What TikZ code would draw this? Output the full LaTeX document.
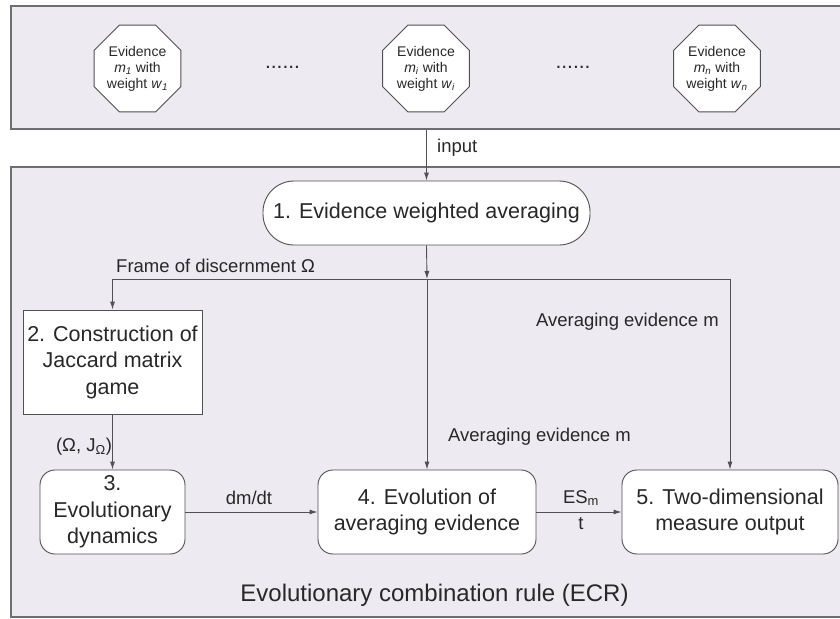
\documentclass[tikz,border=0pt]{standalone}
\usepackage{fontspec}
\setmainfont{Liberation Sans}
\usetikzlibrary{shapes.geometric,arrows.meta}
\definecolor{panelfill}{RGB}{237,234,241}
\definecolor{panelline}{RGB}{110,110,114}
\definecolor{boxline}{RGB}{80,80,85}
\definecolor{txt}{RGB}{40,40,40}
\newcommand{\evsym}[2]{\textit{#1}\textsubscript{\textit{#2}}}
\tikzset{
  panel/.style={draw=panelline, line width=1.6pt, fill=panelfill},
  evbox/.style={draw=boxline, line width=0.9pt, fill=white, regular polygon, regular polygon sides=8,
    minimum size=94pt, inner sep=0pt, align=center, text=txt,
    font=\fontsize{14}{16}\selectfont},
  procbox/.style={draw=boxline, line width=0.9pt, fill=white, rounded corners=15pt, align=center,
    inner sep=2pt, text=txt, font=\fontsize{21.5}{26.5}\selectfont},
  rectbox/.style={draw=boxline, line width=0.9pt, fill=white, align=center,
    inner sep=2pt, text=txt, font=\fontsize{21.5}{26.5}\selectfont},
  lbl/.style={text=txt, inner sep=0pt, font=\fontsize{18.5}{20}\selectfont},
  dotlbl/.style={text=txt, inner sep=0pt, font=\fontsize{21}{22}\selectfont},
  arr/.style={draw=boxline, line width=0.9pt, -{Latex[length=8pt,width=5pt]}},
  ln/.style={draw=boxline, line width=0.9pt},
}
\begin{document}
\begin{tikzpicture}[x=1pt,y=-1pt]
\useasboundingbox (0,0) rectangle (840,618);
% panels
\node[panel, minimum width=840pt, minimum height=123pt, anchor=north west, inner sep=0pt] (top) at (10,5) {};
\node[panel, minimum width=840pt, minimum height=450pt, anchor=north west, inner sep=0pt] (bot) at (10,166) {};
% evidence octagons
\node[evbox] (e1) at (137.5,68.5) {Evidence\\\evsym{m}{1} with\\weight \evsym{w}{1}};
\node[evbox] (ei) at (426,68.5) {Evidence\\\evsym{m}{i} with\\weight \evsym{w}{i}};
\node[evbox] (en) at (717,68.5) {Evidence\\\evsym{m}{n} with\\weight \evsym{w}{n}};
\node[dotlbl] (d1) at (282.5,67) {......};
\node[dotlbl] (d2) at (573,67) {......};
% process nodes
\node[procbox, rounded corners=31pt, minimum width=327pt, minimum height=64pt] (n1) at (426.5,213) {1. Evidence weighted averaging};
\node[rectbox, minimum width=179pt, minimum height=104pt] (n2) at (112.5,362) {2. Construction of\\Jaccard matrix\\game};
\node[procbox, minimum width=145pt, minimum height=84pt] (n3) at (112.5,512) {3.\\Evolutionary\\dynamics};
\node[procbox, minimum width=218pt, minimum height=84pt] (n4) at (427,512) {4. Evolution of\\averaging evidence};
\node[procbox, minimum width=216pt, minimum height=84pt] (n5) at (730,512) {5. Two-dimensional\\measure output};
% junctions
\coordinate (j) at (427,279);
\coordinate (jl) at (112.5,279);
\coordinate (jr) at (730,279);
% connectors
\draw[arr] (top.south -| n1.north) -- (n1.north);
\draw[arr] (n1.south) -- (j);
\draw[arr] (j) -- (n4.north);
\draw[ln] (jl) -- (jr);
\draw[arr] (jl) -- (n2.north);
\draw[arr] (jr) -- (n5.north);
\draw[arr] (n2.south) -- (n3.north);
\draw[arr] (n3.east) -- (n4.west);
\draw[arr] (n4.east) -- (n5.west);
% labels
\node[lbl, anchor=west] (linput) at (437,148) {input};
\node[lbl, anchor=west] (lframe) at (116,266) {Frame of discernment Ω};
\node[lbl, anchor=east] (lavg1) at (719,322) {Averaging evidence m};
\node[lbl, anchor=east] (lavg2) at (631,437) {Averaging evidence m};
\node[lbl] (ljac) at (84,447) {(Ω, J\textsubscript{Ω})};
\node[lbl] (ldm) at (249,498) {dm/dt};
\node[lbl] (les) at (581,498) {ES\textsubscript{m}};
\node[lbl] (lt) at (581,524) {t};
\node[text=txt, inner sep=0pt, font=\fontsize{24}{26}\selectfont] (title) at (434.5,595) {Evolutionary combination rule (ECR)};
\end{tikzpicture}
\end{document}
